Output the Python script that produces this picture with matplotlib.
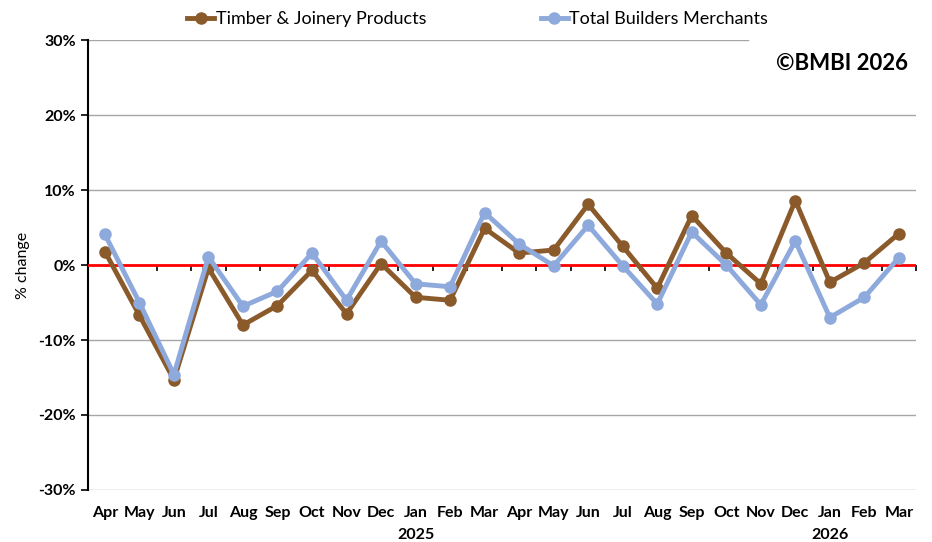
import numpy as np
import matplotlib
matplotlib.use("Agg")
import matplotlib.pyplot as plt
import matplotlib.transforms as mtransforms

plt.rcParams['font.family'] = ['Lato', 'DejaVu Sans']

# data (% change)
months = ["Apr", "May", "Jun", "Jul", "Aug", "Sep", "Oct", "Nov", "Dec", "Jan", "Feb", "Mar",
          "Apr", "May", "Jun", "Jul", "Aug", "Sep", "Oct", "Nov", "Dec", "Jan", "Feb", "Mar"]
years = {9: "2025", 21: "2026"}
timber = [1.8, -6.7, -15.3, -0.4, -8.0, -5.4, -0.7, -6.5, 0.2, -4.3, -4.7, 4.9,
          1.6, 2.0, 8.1, 2.5, -3.1, 6.6, 1.6, -2.5, 8.6, -2.3, 0.3, 4.2]
total = [4.1, -5.0, -14.6, 1.1, -5.5, -3.5, 1.6, -4.7, 3.2, -2.5, -2.9, 7.0,
         2.8, -0.1, 5.3, -0.1, -5.2, 4.4, 0.0, -5.3, 3.2, -7.0, -4.3, 1.0]
yticks = [-30, -20, -10, 0, 10, 20, 30]

brown = "#8B5A2B"
blue = "#8EA9DB"

fig = plt.figure(figsize=(9.32, 5.42), dpi=100)
ax = fig.add_axes([0.094, 0.096, 0.889, 0.83])

x = np.arange(len(months))
ax.plot(x, timber, color=brown, lw=3.5, marker="o", ms=8, label="Timber & Joinery Products", zorder=4)
ax.plot(x, total, color=blue, lw=3.5, marker="o", ms=8, label="Total Builders Merchants", zorder=5)
ax.axhline(0, color="red", lw=2, zorder=3)

ax.set_xlim(-0.5, len(months) - 0.5)
ax.set_ylim(-30, 30)
ax.set_yticks(yticks)
ax.set_yticklabels([f"{v}%" for v in yticks], fontsize=11.5, fontweight="bold")

# gridlines (top one stops short at the copyright box)
for v in yticks:
    if v == 0:
        continue
    xmax = 0.797 if v == 30 else 1.0
    ax.axhline(v, xmin=0, xmax=xmax, color="#a6a6a6", lw=1, zorder=1)

for s in ["top", "right"]:
    ax.spines[s].set_visible(False)
ax.spines["left"].set_linewidth(1.5)
ax.spines["bottom"].set_position(("data", 0))
ax.spines["bottom"].set_visible(False)

ax.set_xticks(x)
ax.set_xticklabels([])
ax.tick_params(axis="x", which="major", length=0)
ax.set_xticks(np.arange(-0.5, len(months)), minor=True)
ax.tick_params(axis="x", which="minor", length=4, width=1.2, color="black", direction="out")
ax.tick_params(axis="y", length=5, width=1.2, direction="out")

trans = mtransforms.blended_transform_factory(ax.transData, ax.transAxes)
for i, m in enumerate(months):
    ax.text(i, -0.036, m, transform=trans, ha="center", va="top", fontsize=11.5, fontweight="bold")
for i, yr in years.items():
    ax.text(i, -0.085, yr, transform=trans, ha="center", va="top", fontsize=11.5, fontweight="bold")

ax.set_ylabel("% change", fontsize=11.5, labelpad=6)

ax.text(0.99, 0.949, "©BMBI 2026", transform=ax.transAxes, ha="right", va="center",
        fontsize=16, fontweight="bold")

ax.legend(loc="lower center", bbox_to_anchor=(0.471, 1.005), ncol=2, frameon=False,
          fontsize=13, columnspacing=6.3, handlelength=1.5, handletextpad=0.1,
          borderaxespad=0.2)

fig.savefig("out.png", dpi=100)
